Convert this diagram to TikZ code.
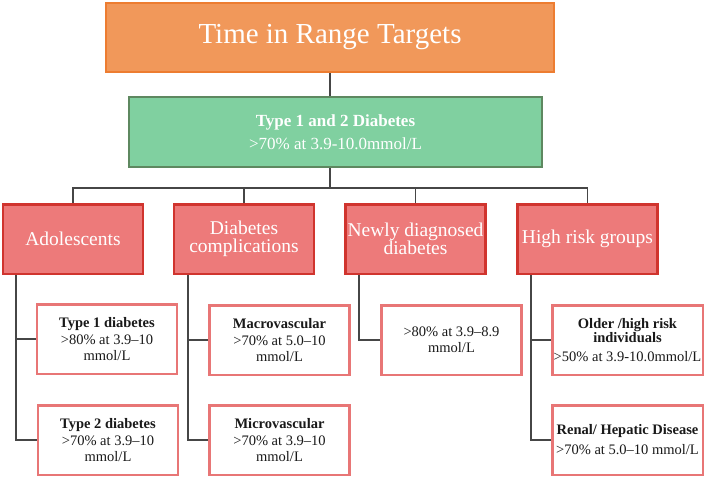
\documentclass[tikz,border=0pt]{standalone}
\usepackage{fontspec}
\setmainfont{Liberation Serif}
\definecolor{orfill}{RGB}{241,152,90}
\definecolor{ordraw}{RGB}{237,125,49}
\definecolor{grfill}{RGB}{128,208,160}
\definecolor{grdraw}{RGB}{94,136,96}
\definecolor{rdfill}{RGB}{237,122,122}
\definecolor{rddraw}{RGB}{208,52,46}
\definecolor{lfdraw}{RGB}{232,118,118}
\definecolor{conn}{RGB}{70,70,70}
\definecolor{txt}{RGB}{25,25,25}
\begin{document}
\begin{tikzpicture}[x=1pt,y=-1pt,
  titlebox/.style={draw=ordraw,fill=orfill,line width=2pt,minimum width=448pt,minimum height=69pt,inner sep=0pt,text=white,font=\fontsize{29}{31}\selectfont},
  greenbox/.style={draw=grdraw,fill=grfill,line width=2pt,minimum width=413pt,minimum height=70pt,inner sep=0pt,text=white,align=center,font=\fontsize{17}{23}\selectfont},
  catbox/.style={draw=rddraw,fill=rdfill,line width=2.5pt,minimum width=140pt,minimum height=69.5pt,inner sep=0pt,text=white,align=center,font=\fontsize{19.5}{18}\selectfont},
  leafbox/.style={draw=lfdraw,fill=white,line width=2.5pt,minimum width=140pt,minimum height=69.5pt,inner sep=0pt,text=txt,align=center,font=\fontsize{14.5}{16}\selectfont},
  wideleaf/.style={leafbox,minimum width=150.5pt},
  link/.style={draw=conn,line width=1.3pt}
]
\useasboundingbox (0,0) rectangle (709,479);

\node[titlebox] (top) at (330,37.5) {Time in Range Targets};
\node[greenbox] (green) at (335.5,132) {\textbf{Type 1 and 2 Diabetes}\\>70\% at 3.9-10.0mmol/L};

\node[catbox] (ado) at (73,239) {Adolescents};
\node[catbox] (comp) at (244,239) {Diabetes\\complications};
\node[catbox] (newly) at (415.5,239) {Newly diagnosed\\diabetes};
\node[catbox] (high) at (587.5,239) {High risk groups};

\node[leafbox] (t1) at (107,339) {\textbf{Type 1 diabetes}\\[1pt]>80\% at 3.9--10\\mmol/L};
\node[leafbox] (t2) at (108,440) {\textbf{Type 2 diabetes}\\[1pt]>70\% at 3.9--10\\mmol/L};
\node[leafbox] (macro) at (279.5,340) {\textbf{Macrovascular}\\[1pt]>70\% at 5.0--10\\mmol/L};
\node[leafbox] (micro) at (279.5,440) {\textbf{Microvascular}\\[1pt]>70\% at 3.9--10\\mmol/L};
\node[leafbox] (nleaf) at (451.5,340) {>80\% at 3.9--8.9\\mmol/L};
\node[wideleaf] (older) at (627.5,340) {\textbf{Older /high risk}\\[-2pt]\textbf{individuals}\\[3pt]>50\% at 3.9-10.0mmol/L};
\node[wideleaf] (renal) at (627.5,440) {\textbf{Renal/ Hepatic Disease}\\[4pt]>70\% at 5.0--10 mmol/L};

\coordinate (bus) at (0,188);
\coordinate (xa) at (16,0);
\coordinate (xc) at (188,0);
\coordinate (xn) at (359,0);
\coordinate (xh) at (531,0);

\draw[link] (top.south) -- (top.south |- green.north);
\draw[link] (top.south |- green.south) -- (top.south |- bus);
\draw[link] (ado.north) -- (ado.north |- bus) -- (high.north |- bus) -- (high.north);
\draw[link] (comp.north) -- (comp.north |- bus);
\draw[link] (newly.north) -- (newly.north |- bus);

\draw[link] (xa |- ado.south) |- (t2.west);
\draw[link] (xa |- t1.west) -- (t1.west);
\draw[link] (xc |- comp.south) |- (micro.west);
\draw[link] (xc |- macro.west) -- (macro.west);
\draw[link] (xn |- newly.south) |- (nleaf.west);
\draw[link] (xh |- high.south) |- (renal.west);
\draw[link] (xh |- older.west) -- (older.west);
\end{tikzpicture}
\end{document}
